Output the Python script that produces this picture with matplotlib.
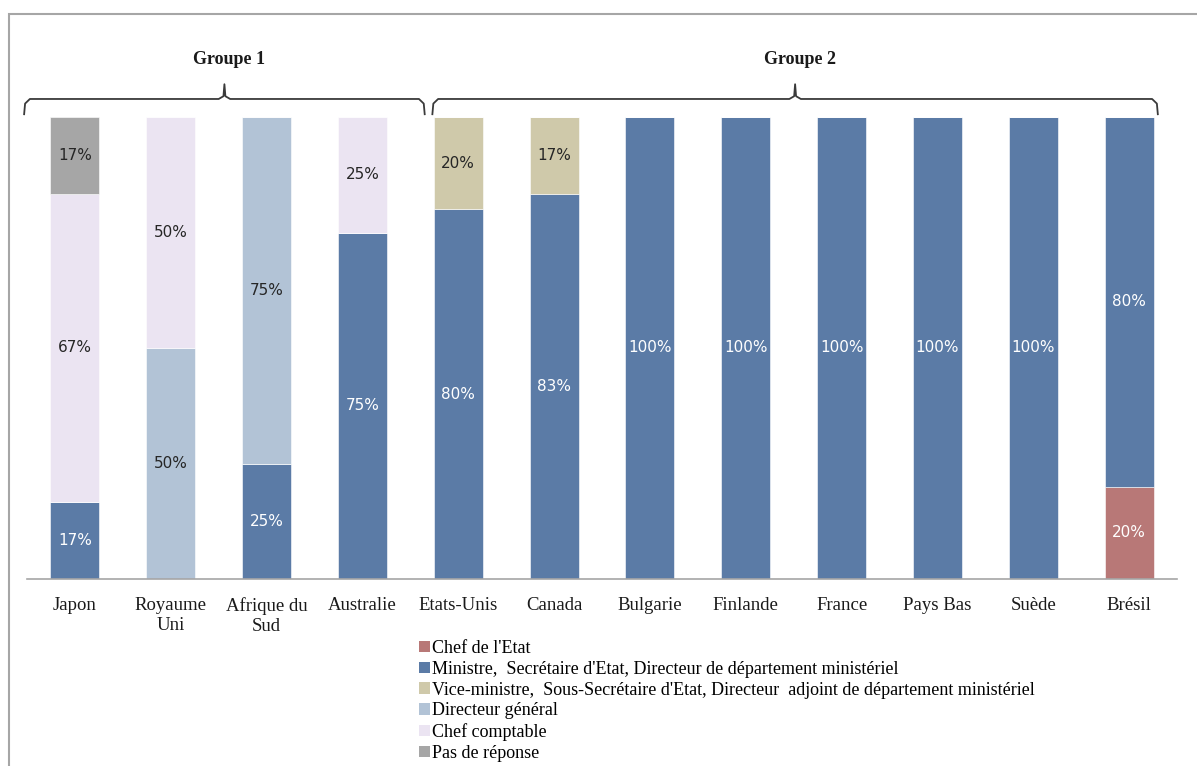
import numpy as np
import matplotlib.pyplot as plt
from matplotlib.patches import Patch, Rectangle
import matplotlib.transforms as mtransforms

# Data (percent of answers per country)
countries = ['Japon', 'Royaume\nUni', 'Afrique du\nSud', 'Australie', 'Etats-Unis', 'Canada',
             'Bulgarie', 'Finlande', 'France', 'Pays Bas', 'Suède', 'Brésil']
chef_etat = [0, 0, 0, 0, 0, 0, 0, 0, 0, 0, 0, 20]
ministre = [16.7, 0, 25, 75, 80, 83.3, 100, 100, 100, 100, 100, 80]
vice_ministre = [0, 0, 0, 0, 20, 16.7, 0, 0, 0, 0, 0, 0]
directeur_general = [0, 50, 75, 0, 0, 0, 0, 0, 0, 0, 0, 0]
chef_comptable = [66.6, 50, 0, 25, 0, 0, 0, 0, 0, 0, 0, 0]
pas_de_reponse = [16.7, 0, 0, 0, 0, 0, 0, 0, 0, 0, 0, 0]

series = [
    ("Chef de l'Etat", chef_etat, '#b87877', 'white'),
    ("Ministre,  Secrétaire d'Etat, Directeur de département ministériel", ministre, '#5b7ba6', 'white'),
    ("Vice-ministre,  Sous-Secrétaire d'Etat, Directeur  adjoint de département ministériel", vice_ministre, '#cfc9aa', '#262626'),
    ("Directeur général", directeur_general, '#b2c3d6', '#262626'),
    ("Chef comptable", chef_comptable, '#ebe4f2', '#262626'),
    ("Pas de réponse", pas_de_reponse, '#a6a6a6', '#262626'),
]

groups = ['Groupe 1', 'Groupe 2']
group_first = [0, 4]
group_last = [3, 11]
# brace extents relative to first/last bar
brace_pad_left = [-0.53, -0.27]
brace_pad_right = [0.65, 0.30]

W, H = 1197, 766
fig = plt.figure(figsize=(W / 100, H / 100), dpi=100)
ax = fig.add_axes([27 / W, (H - 579) / H, (1177 - 27) / W, (579 - 117) / H])

x = np.arange(len(countries))
bottom = np.zeros(len(countries))
for name, vals, color, tcolor in series:
    vals = np.array(vals, dtype=float)
    ax.bar(x, vals, 0.51, bottom=bottom, color=color, edgecolor='white', linewidth=0.4)
    for xi, v, b in zip(x, vals, bottom):
        if v > 0:
            ax.text(xi, b + v / 2, f'{v:.0f}%', ha='center', va='center',
                    fontsize=11, color=tcolor, family='DejaVu Sans')
    bottom += vals

ax.set_xlim(-0.5, len(countries) - 0.5)
ax.set_ylim(0, 100)
ax.set_yticks([])
for s in ['top', 'left', 'right']:
    ax.spines[s].set_visible(False)
ax.spines['bottom'].set_color('#a6a6a6')
ax.spines['bottom'].set_linewidth(1.2)
ax.set_xticks(x)
ax.set_xticklabels(countries, family='Liberation Serif', fontsize=13.5, color='#1a1a1a',
                   linespacing=1.2)
ax.tick_params(axis='x', length=0, pad=13)

# Braces and group titles
trans = mtransforms.blended_transform_factory(ax.transData, ax.transAxes)
for g, f, l, pl, pr in zip(groups, group_first, group_last, brace_pad_left, brace_pad_right):
    x0, x1 = f + pl, l + pr
    xc = (x0 + x1) / 2
    yb, yh, yt = 1.006, 1.039, 1.071
    bx = [x0, x0 + 0.01, x0 + 0.06, xc - 0.06, xc - 0.01, xc, xc + 0.01, xc + 0.06,
          x1 - 0.06, x1 - 0.01, x1]
    by = [yb, yh - 0.01, yh, yh, yh + 0.006, yt, yh + 0.006, yh, yh, yh - 0.01, yb]
    ax.plot(bx, by, color='#3a3a3a', lw=1.3, transform=trans, clip_on=False)
    ax.text(xc + 0.05, 1.125, g, transform=trans, ha='center', va='center',
            family='Liberation Serif', fontweight='bold', fontsize=13, color='#1a1a1a')

# Legend
handles = [Patch(facecolor=c, edgecolor='none', label=n) for n, _, c, _ in series]
fig.legend(handles=handles, loc='upper left', bbox_to_anchor=(419 / W, 1 - 640 / H),
           frameon=False, prop={'family': 'Liberation Serif', 'size': 13},
           handlelength=0.6, handleheight=0.6, handletextpad=0.1,
           labelspacing=0.21, borderpad=0, borderaxespad=0)

# Outer frame of the chart area
fig.add_artist(Rectangle((9 / W, -0.1), 1.2, 1 - 14 / H + 0.1, transform=fig.transFigure,
                         fill=False, edgecolor='#a6a6a6', linewidth=1.5))

fig.savefig('out.png', dpi=100)
